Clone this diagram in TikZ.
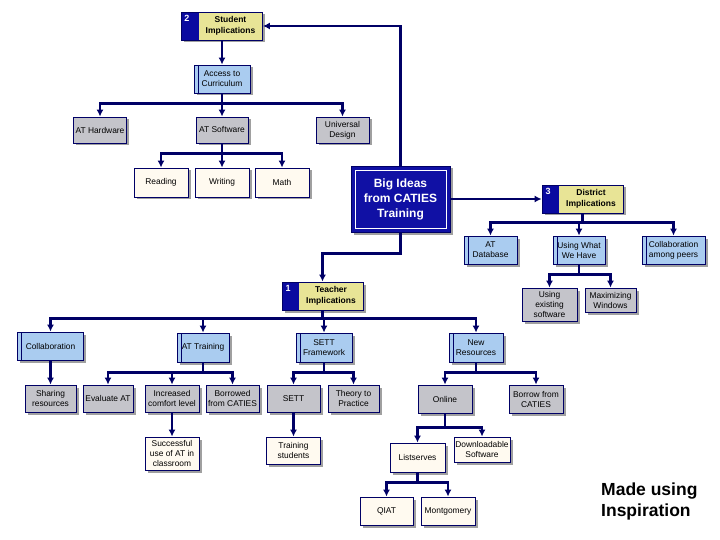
\documentclass[tikz,border=0pt]{standalone}
\usepackage{fontspec}
\setmainfont{Liberation Sans}
\usetikzlibrary{arrows.meta,shadows}

\definecolor{linec}{RGB}{0,0,102}
\definecolor{numblue}{RGB}{10,10,160}
\definecolor{bigblue}{RGB}{16,16,164}
\definecolor{hdryellow}{RGB}{232,228,150}
\definecolor{lblue}{RGB}{170,204,240}
\definecolor{boxgray}{RGB}{196,196,202}
\definecolor{cream}{RGB}{255,250,240}
\definecolor{shadowc}{RGB}{160,160,160}

\tikzset{
  basebox/.style={draw=linec, line width=0.8pt, inner sep=1pt, align=center,
    font=\fontsize{8.4}{10}\selectfont,
    drop shadow={shadow xshift=2.5pt, shadow yshift=-2.5pt, fill=shadowc, opacity=1}},
  bluebox/.style={basebox, fill=lblue,
    path picture={\draw[linec, line width=0.6pt]
      ([xshift=4pt]path picture bounding box.north west) --
      ([xshift=4pt]path picture bounding box.south west);}},
  graybox/.style={basebox, fill=boxgray},
  creambox/.style={basebox, fill=cream},
  hdrbox/.style={basebox, fill=hdryellow,
    path picture={\fill[numblue] (path picture bounding box.north west) rectangle
      ([xshift=17pt]path picture bounding box.south west);}},
  hdrtext/.style={inner sep=0pt, align=center, font=\fontsize{8.5}{10.5}\selectfont\bfseries},
  numtext/.style={inner sep=0pt, text=white, font=\fontsize{9}{9}\selectfont\bfseries},
  bigbox/.style={draw=linec, line width=0.8pt, fill=bigblue, text=white, align=center,
    font=\fontsize{12}{15}\selectfont\bfseries,
    drop shadow={shadow xshift=2.5pt, shadow yshift=-2.5pt, fill=shadowc, opacity=1},
    path picture={\draw[white, line width=0.8pt]
      ([shift={(4pt,-4pt)}]path picture bounding box.north west) rectangle
      ([shift={(-4pt,4pt)}]path picture bounding box.south east);}},
  conn/.style={draw=linec, line width=2.4pt, -{Latex[length=7pt,width=7pt]}},
  sz/.style 2 args={minimum width=#1pt, minimum height=#2pt},
  credit/.style={inner sep=0pt, align=left, font=\fontsize{17.5}{20.7}\selectfont\bfseries}
}

\begin{document}
\begin{tikzpicture}[x=1pt,y=-1pt]
\useasboundingbox (0,0) rectangle (720,540);

% central
\node[bigbox, sz={99}{66}] (big) at (400.5,199) {Big Ideas\\from CATIES\\Training};

% headers
\node[hdrbox, sz={81}{28}] (student) at (222,26) {};
\node[hdrtext] (studentT) at (230.5,26) {Student\\Implications};
\node[numtext] (n2) at (187,18) {2};

\node[hdrbox, sz={81}{28}] (district) at (582.5,199) {};
\node[hdrtext] (districtT) at (591,199) {District\\Implications};
\node[numtext] (n3) at (548,191) {3};

\node[hdrbox, sz={81}{28}] (teacher) at (322.5,296) {};
\node[hdrtext] (teacherT) at (331,296) {Teacher\\Implications};
\node[numtext] (n1) at (288,288) {1};

% student branch
\node[bluebox, sz={56}{28}] (access) at (222,79) {Access to\\Curriculum};
\node[graybox, sz={53}{26}] (hw) at (100,130) {AT Hardware};
\node[graybox, sz={52}{26}] (sw) at (222,130) {AT Software};
\node[graybox, sz={53}{26}] (ud) at (342.5,130) {Universal\\Design};
\node[creambox, sz={54}{29}] (reading) at (161,182.5) {Reading};
\node[creambox, sz={54}{29}] (writing) at (222,182.5) {Writing};
\node[creambox, sz={54}{29}] (math) at (282,182.5) {Math};

% district branch
\node[bluebox, sz={53}{28}] (atdb) at (490.5,250) {AT\\Database};
\node[bluebox, sz={52}{28}] (using) at (579,250) {Using What\\We Have};
\node[bluebox, sz={63}{28}] (peers) at (673.5,250) {Collaboration\\among peers};
\node[graybox, sz={55}{33}] (existing) at (549.5,304.5) {Using\\existing\\software};
\node[graybox, sz={51}{24}] (maxwin) at (610.5,300) {Maximizing\\Windows};

% teacher branch
\node[bluebox, sz={66}{28}] (collab) at (50.5,346) {Collaboration};
\node[bluebox, sz={52}{29}] (attrain) at (203,347.5) {AT Training};
\node[bluebox, sz={56}{29}] (settfw) at (324,347.5) {SETT\\Framework};
\node[bluebox, sz={54}{29}] (newres) at (476,347.5) {New\\Resources};

\node[graybox, sz={51}{27}] (sharing) at (50.5,398.5) {Sharing\\resources};
\node[graybox, sz={50}{27}] (evalat) at (108,398.5) {Evaluate AT};
\node[graybox, sz={54}{27}] (increased) at (172,398.5) {Increased\\comfort level};
\node[graybox, sz={53}{27}] (borrowed) at (232.5,398.5) {Borrowed\\from CATIES};
\node[graybox, sz={53}{27}] (sett) at (293.5,398.5) {SETT};
\node[graybox, sz={51}{27}] (theory) at (353.5,398.5) {Theory to\\Practice};
\node[graybox, sz={54}{28}] (online) at (445,399) {Online};
\node[graybox, sz={54}{28}] (borrow) at (536,399) {Borrow from\\CATIES};

\node[creambox, sz={54}{33}] (successful) at (172,453.5) {Successful\\use of AT in\\classroom};
\node[creambox, sz={54}{27}] (training) at (293.5,450.5) {Training\\students};
\node[creambox, sz={55}{29}] (listserves) at (417.5,457.5) {Listserves};
\node[creambox, sz={56}{25}] (download) at (482,449.5) {Downloadable\\Software};
\node[creambox, sz={53}{28}] (qiat) at (386.5,511) {QIAT};
\node[creambox, sz={54}{28}] (montgomery) at (448,511) {Montgomery};

\node[credit, anchor=north west] (credit) at (601,483) {Made using\\Inspiration};

% connectors
\draw[conn] (big.north) |- (student.east);
\draw[conn] (big.east) -- (district.west);
\draw[conn] (big.south) -- ++(0,21) -| (teacher.north);

\draw[conn] (student.south) -- (access.north);
\foreach \c in {hw,sw,ud} \draw[conn] (access.south) -- ++(0,10) -| (\c.north);
\foreach \c in {reading,writing,math} \draw[conn] (sw.south) -- ++(0,10) -| (\c.north);

\foreach \c in {atdb,using,peers} \draw[conn] (district.south) -- ++(0,9) -| (\c.north);
\foreach \c in {existing,maxwin} \draw[conn] (using.south) -- ++(0,10) -| (\c.north);

\foreach \c in {collab,attrain,settfw,newres} \draw[conn] (teacher.south) -- ++(0,8) -| (\c.north);
\draw[conn] (collab.south) -- (sharing.north);
\foreach \c in {evalat,increased,borrowed} \draw[conn] (attrain.south) -- ++(0,10) -| (\c.north);
\foreach \c in {sett,theory} \draw[conn] (settfw.south) -- ++(0,10) -| (\c.north);
\foreach \c in {online,borrow} \draw[conn] (newres.south) -- ++(0,10) -| (\c.north);
\draw[conn] (increased.south) -- (successful.north);
\draw[conn] (sett.south) -- (training.north);
\foreach \c in {listserves,download} \draw[conn] (online.south) -- ++(0,14) -| (\c.north);
\foreach \c in {qiat,montgomery} \draw[conn] (listserves.south) -- ++(0,10) -| (\c.north);
\end{tikzpicture}
\end{document}
